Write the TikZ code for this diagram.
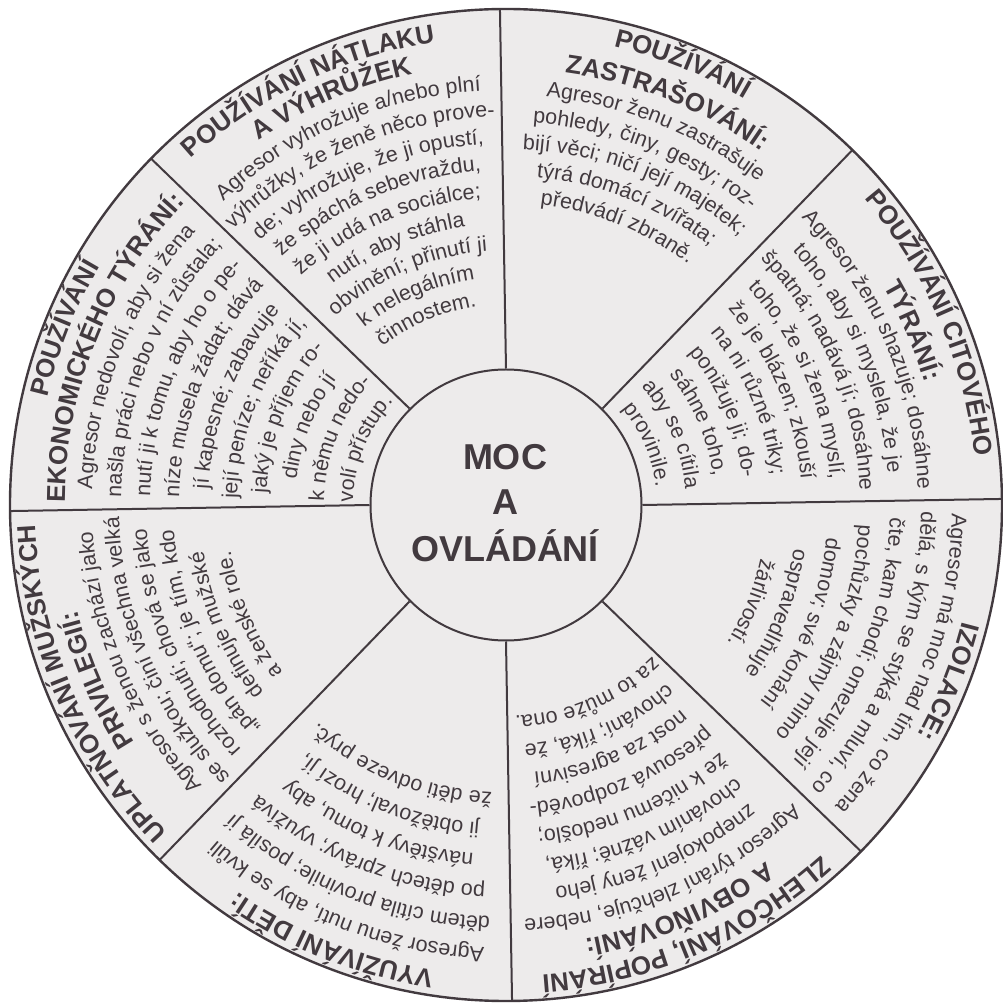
\documentclass[tikz,border=0pt]{standalone}
\usepackage{fontspec}
\setmainfont{Liberation Sans}
\newfontfamily\wheelfont{Liberation Sans}
\usetikzlibrary{decorations.text}
\definecolor{ink}{RGB}{66,58,63}
\definecolor{wheelbg}{RGB}{237,235,235}
\newcommand\Tf{\color{ink}\wheelfont\bfseries\fontsize{26}{30}\selectfont}
\newcommand\Bf{\color{ink}\wheelfont\fontsize{21.5}{26}\selectfont}
\newcommand\wl[4]{\path[decorate,decoration={text along path,text align=center,text={|#3|#4}}] ({#1+60}:#2pt) arc[start angle={#1+60},end angle={#1-60},radius=#2pt];}
\tikzset{
  rim/.style={draw=ink,line width=2.4pt},
  spoke/.style={draw=ink,line width=2pt},
  hubstyle/.style={circle,draw=ink,line width=2pt,minimum size=271pt,inner sep=0pt,fill=wheelbg},
  centertext/.style={text=ink,inner sep=0pt,anchor=base,font=\wheelfont\bfseries\fontsize{36}{40}\selectfont}
}
\begin{document}
\begin{tikzpicture}
\useasboundingbox (-506pt,-498pt) rectangle (496pt,505pt);
\fill[white] (-506pt,-498pt) rectangle (496pt,505pt);
\fill[wheelbg] (0,0) circle[radius=496pt];
\node[hubstyle] (hub) at (0,0) {};
\foreach \a in {0,45,...,315}{
  \coordinate (r\a) at ({\a+0.7}:496pt);
  \draw[spoke] (hub.{\a+0.7}) -- (r\a);
}
\draw[rim] (0,0) circle[radius=496pt];
% centre
\node[centertext] (moc1) at (-1pt,35pt) {MOC};
\node[centertext] (moc2) at (-1pt,-10pt) {A};
\node[centertext] (moc3) at (-1pt,-57pt) {OVLÁDÁNÍ};
% S1 natlak
\wl{115.5}{468}{\Tf}{POUŽÍVÁNÍ NÁTLAKU}
\wl{113.2}{441}{\Tf}{A VÝHRŮŽEK}
\wl{113.2}{415}{\Bf}{Agresor vyhrožuje a/nebo plní}
\wl{113.2}{388.2}{\Bf}{výhrůžky, že ženě něco prove-}
\wl{113.2}{361.4}{\Bf}{de; vyhrožuje, že ji opustí,}
\wl{113.2}{334.6}{\Bf}{že spáchá sebevraždu,}
\wl{113.2}{307.8}{\Bf}{že ji udá na sociálce;}
\wl{113.2}{281}{\Bf}{nutí, aby stáhla}
\wl{113.2}{254.2}{\Bf}{obvinění; přinutí ji}
\wl{113.2}{227.4}{\Bf}{k nelegálním}
\wl{113.2}{200.6}{\Bf}{činnostem.}
% S2 zastrasovani
\wl{68.2}{471}{\Tf}{POUŽÍVÁNÍ}
\wl{68.2}{436}{\Tf}{ZASTRAŠOVÁNÍ:}
\wl{68.2}{410}{\Bf}{Agresor ženu zastrašuje}
\wl{68.2}{383}{\Bf}{pohledy, činy, gesty; roz-}
\wl{68.2}{356}{\Bf}{bijí věci; ničí její majetek;}
\wl{68.2}{329}{\Bf}{týrá domácí zvířata;}
\wl{68.2}{302}{\Bf}{předvádí zbraně.}
% S3 citove
\wl{23.2}{471}{\Tf}{POUŽÍVÁNÍ CITOVÉHO}
\wl{23.2}{436}{\Tf}{TÝRÁNÍ:}
\wl{23.2}{412}{\Bf}{Agresor ženu shazuje; dosáhne}
\wl{23.2}{383}{\Bf}{toho, aby si myslela, že je}
\wl{23.2}{354}{\Bf}{špatná; nadává jí; dosáhne}
\wl{23.2}{325}{\Bf}{toho, že si žena myslí,}
\wl{23.2}{296}{\Bf}{že je blázen; zkouší}
\wl{23.2}{267}{\Bf}{na ni různé triky;}
\wl{23.2}{238}{\Bf}{ponižuje ji; do-}
\wl{23.2}{209}{\Bf}{sáhne toho,}
\wl{23.2}{180}{\Bf}{aby se cítila}
\wl{23.2}{151}{\Bf}{provinile.}
% S4 izolace
\wl{-21.8}{471}{\Tf}{IZOLACE:}
\wl{-21.8}{446}{\Bf}{Agresor má moc nad tím, co žena}
\wl{-21.8}{415}{\Bf}{dělá, s kým se stýká a mluví, co}
\wl{-21.8}{384}{\Bf}{čte, kam chodí; omezuje její}
\wl{-21.8}{353}{\Bf}{pochůzky a zájmy mimo}
\wl{-21.8}{322}{\Bf}{domov; své konání}
\wl{-21.8}{291}{\Bf}{ospravedlňuje}
\wl{-21.8}{260}{\Bf}{žárlivostí.}
% S5 zlehcovani
\wl{-66.8}{471}{\Tf}{ZLEHČOVÁNÍ, POPÍRÁNÍ}
\wl{-66.8}{441}{\Tf}{A OBVIŇOVÁNÍ:}
\wl{-66.8}{414}{\Bf}{Agresor týrání zlehčuje, nebere}
\wl{-66.8}{385}{\Bf}{znepokojení ženy jeho}
\wl{-66.8}{356}{\Bf}{chováním vážně; říká,}
\wl{-66.8}{327}{\Bf}{že k ničemu nedošlo;}
\wl{-66.8}{298}{\Bf}{přesouvá zodpověd-}
\wl{-66.8}{269}{\Bf}{nost za agresivní}
\wl{-66.8}{240}{\Bf}{chování; říká, že}
\wl{-66.8}{211}{\Bf}{za to může ona.}
% S6 deti
\wl{-111.8}{471}{\Tf}{VYUŽÍVÁNÍ DĚTÍ:}
\wl{-111.8}{443}{\Bf}{Agresor ženu nutí, aby se kvůli}
\wl{-111.8}{412}{\Bf}{dětem cítila provinile; posílá jí}
\wl{-111.8}{381}{\Bf}{po dětech zprávy; využívá}
\wl{-111.8}{350}{\Bf}{návštěvy k tomu, aby}
\wl{-111.8}{319}{\Bf}{ji obtěžoval; hrozí jí,}
\wl{-111.8}{288}{\Bf}{že děti odveze pryč.}
% S7 privilegia
\wl{203.2}{471}{\Tf}{UPLATŇOVÁNÍ MUŽSKÝCH}
\wl{203.2}{441}{\Tf}{PRIVILEGIÍ:}
\wl{203.2}{414}{\Bf}{Agresor s ženou zachází jako}
\wl{203.2}{387}{\Bf}{se služkou; činí všechna velká}
\wl{203.2}{360}{\Bf}{rozhodnutí; chová se jako}
\wl{203.2}{333}{\Bf}{„pán domu“; je tím, kdo}
\wl{203.2}{306}{\Bf}{definuje mužské}
\wl{203.2}{279}{\Bf}{a ženské role.}
% S8 ekonomicke
\wl{158.2}{471}{\Tf}{POUŽÍVÁNÍ}
\wl{158.2}{441}{\Tf}{EKONOMICKÉHO TÝRÁNÍ:}
\wl{158.2}{414}{\Bf}{Agresor nedovolí, aby si žena}
\wl{158.2}{385}{\Bf}{našla práci nebo v ní zůstala;}
\wl{158.2}{356}{\Bf}{nutí ji k tomu, aby ho o pe-}
\wl{158.2}{327}{\Bf}{níze musela žádat; dává}
\wl{158.2}{298}{\Bf}{jí kapesné; zabavuje}
\wl{158.2}{269}{\Bf}{její peníze; neříká jí,}
\wl{158.2}{240}{\Bf}{jaký je příjem ro-}
\wl{158.2}{211}{\Bf}{diny nebo jí}
\wl{158.2}{182}{\Bf}{k němu nedo-}
\wl{158.2}{153}{\Bf}{volí přístup.}
\end{tikzpicture}
\end{document}
